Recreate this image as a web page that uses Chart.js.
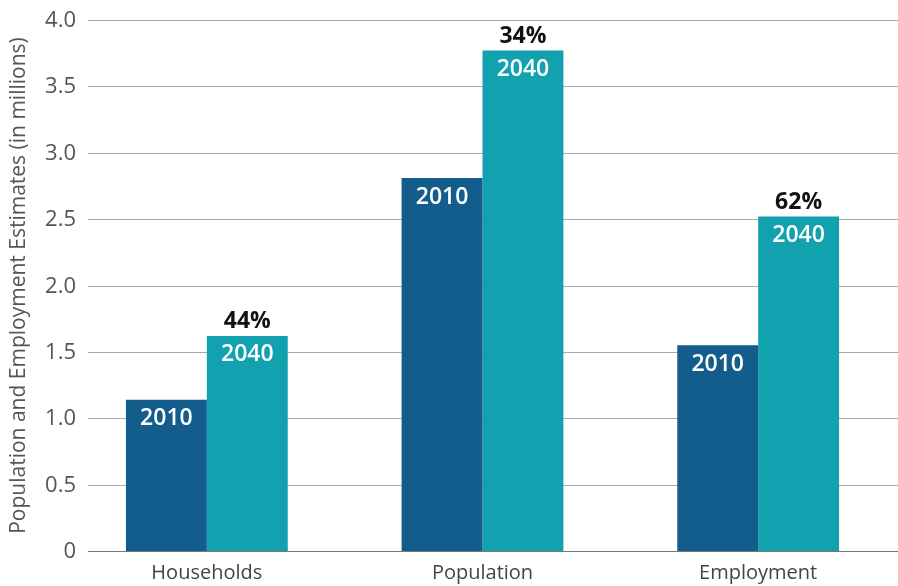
<!DOCTYPE html>
<html>
<head>
<meta charset="utf-8">
<script src="https://cdn.jsdelivr.net/npm/chart.js@4.4.1/dist/chart.umd.min.js"></script>
<style>
  html, body { margin: 0; padding: 0; background: #fff; }
  #wrap { width: 898px; height: 586px; }
</style>
</head>
<body>
<div id="wrap"><canvas id="est-chart" width="898" height="586"></canvas></div>
<script>
const categories = ['Households', 'Population', 'Employment'];
const years = ['2010', '2040'];
const values2010 = [1.14, 2.81, 1.55];
const values2040 = [1.62, 3.77, 2.52];
const growthLabels = ['44%', '34%', '62%'];
const yTicks = [0, 0.5, 1.0, 1.5, 2.0, 2.5, 3.0, 3.5, 4.0];
const yTickLabels = ['0', '0.5', '1.0', '1.5', '2.0', '2.5', '3.0', '3.5', '4.0'];

const FONT = "'Open Sans', 'Noto Sans', sans-serif";

// grid lines and y tick labels, placed from the y scale but offset like the original
const gridPlugin = {
  id: 'grid',
  beforeDatasetsDraw(chart) {
    const ctx = chart.ctx;
    const y = chart.scales.y;
    ctx.save();
    yTicks.forEach(function(t, i) {
      const py = Math.round(y.getPixelForValue(t)) + 0.5;
      ctx.strokeStyle = t === 0 ? '#777' : '#a8a8a8';
      ctx.lineWidth = 1;
      ctx.beginPath();
      ctx.moveTo(88, py);
      ctx.lineTo(chart.width, py);
      ctx.stroke();

      ctx.fillStyle = '#555';
      ctx.font = '22px ' + FONT;
      ctx.textAlign = 'right';
      ctx.textBaseline = 'middle';
      ctx.fillText(yTickLabels[i], 76, py);
    });
    ctx.restore();
  }
};

// year labels inside bars, growth labels above 2040 bars
const labelPlugin = {
  id: 'barLabels',
  afterDatasetsDraw(chart) {
    const ctx = chart.ctx;
    ctx.save();
    ctx.textAlign = 'center';
    ctx.textBaseline = 'middle';
    chart.data.datasets.forEach(function(ds, di) {
      const meta = chart.getDatasetMeta(di);
      meta.data.forEach(function(bar, i) {
        ctx.fillStyle = '#ffffff';
        ctx.font = '600 23px ' + FONT;
        ctx.fillText(ds.label, bar.x, bar.y + 19);
        if (di === 1) {
          ctx.fillStyle = '#111';
          ctx.font = 'bold 23px ' + FONT;
          ctx.fillText(growthLabels[i], bar.x, bar.y - 14);
        }
      });
    });
    ctx.restore();
  }
};

const ctx = document.getElementById('est-chart').getContext('2d');
new Chart(ctx, {
  type: 'bar',
  data: {
    labels: categories,
    datasets: [
      { label: years[0], data: values2010, backgroundColor: '#135d8d' },
      { label: years[1], data: values2040, backgroundColor: '#12a2af' }
    ]
  },
  options: {
    responsive: false,
    animation: false,
    layout: { padding: { top: 20, right: 2 } },
    datasets: {
      bar: { categoryPercentage: 0.587, barPercentage: 1.0 }
    },
    plugins: {
      legend: { display: false },
      tooltip: { enabled: false }
    },
    scales: {
      x: {
        grid: { display: false },
        border: { display: false },
        ticks: { color: '#444', font: { family: FONT, size: 20 }, padding: 2 },
        afterFit(scale) { scale.height = 35; }
      },
      y: {
        min: 0,
        max: 4,
        grid: { display: false },
        border: { display: false },
        ticks: { display: false },
        title: {
          display: true,
          text: 'Population and Employment Estimates (in millions)',
          color: '#555',
          font: { family: FONT, size: 21 },
          padding: { top: 6, bottom: 0 }
        },
        afterFit(scale) { scale.width = 69; }
      }
    }
  },
  plugins: [gridPlugin, labelPlugin]
});
</script>
</body>
</html>
